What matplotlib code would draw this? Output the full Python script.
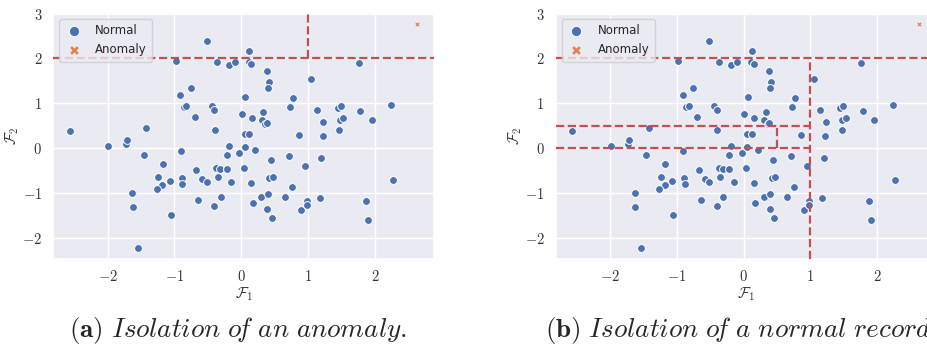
import numpy as np
import matplotlib
matplotlib.use('Agg')
import matplotlib.pyplot as plt
import seaborn as sns

sns.set_theme(style='darkgrid')
plt.rcParams['mathtext.fontset'] = 'cm'
plt.rcParams['font.family'] = ['DejaVu Sans']

# Normal records (feature 1, feature 2)
normal_f1 = [-2.56, -1.99, -1.73, -1.71, -1.42, -1.46, -1.17, -1.24, -1.18, -1.26, -1.07, -1.63, -1.62, -1.05, -1.54,
             -0.98, -0.91, -0.75, -0.86, -0.82, -0.69, -0.90, -0.89, -0.88, -0.67, -0.58, -0.51, -0.64, -0.40,
             -0.51, -0.36, -0.19, -0.10, -0.44, -0.40, -0.39, -0.18, -0.21, -0.03, -0.37, -0.31, -0.21, -0.35, -0.15, -0.30,
             0.12, 0.11, 0.15, 0.06, 0.01, 0.16, 0.05, 0.12, 0.05, 0.21, 0.04, 0.15, 0.17,
             0.38, 0.41, 0.40, 0.33, 0.31, 0.36, 0.38, 0.44, 0.42, 0.47, 0.30, 0.40, 0.39, 0.46,
             0.77, 0.73, 0.86, 0.71, 0.76, 0.65, 0.90, 0.98, 0.98, 0.95,
             1.05, 1.14, 1.23, 1.22, 1.20, 1.18, 1.45, 1.49, 1.48, 1.53, 1.47,
             1.76, 1.78, 1.95, 1.87, 1.90, 2.24, 2.27]
normal_f2 = [0.38, 0.04, 0.09, 0.17, 0.44, -0.15, -0.35, -0.65, -0.83, -0.92, -0.74, -1.00, -1.32, -1.49, -2.23,
             1.95, 1.19, 1.33, 0.92, 0.95, 0.69, -0.07, -0.67, -0.80, -0.49, -0.69, -0.75, -1.15, -1.29,
             2.39, 1.93, 1.86, 1.93, 0.95, 0.85, 0.40, 0.05, -0.15, -0.10, -0.44, -0.46, -0.46, -0.64, -0.75, -1.10,
             2.17, 1.92, 1.87, 1.13, 0.77, 0.68, 0.32, 0.32, 0.02, -0.04, -0.44, -0.77, -1.23,
             1.72, 1.48, 1.34, 0.80, 0.63, 0.53, 0.55, -0.27, -0.66, -0.65, -1.08, -1.03, -1.35, -1.55,
             1.12, 0.92, 0.30, -0.17, -0.86, -1.10, -1.38, -1.17, -1.27, -0.41,
             1.54, 0.86, 0.58, 0.27, -0.21, -1.11, 0.90, 0.94, 0.63, 0.67, 0.41,
             1.89, 0.83, 0.63, -1.17, -1.60, 0.97, -0.70]

anomaly_f1 = [2.63]
anomaly_f2 = [2.77]

# isolation tree splits: (axis, threshold, lower bound, upper bound)
splits_a = [('h', 2.0, None, None), ('v', 1.0, 2.0, None)]
splits_b = [('h', 2.0, None, None), ('v', 1.0, None, 2.0), ('h', 0.5, None, 1.0),
            ('h', 0.0, None, 1.0), ('v', 0.5, 0.0, 0.5)]

captions = [(r'$\mathbf{(a)}\ \mathit{Isolation\ o\!f\ an\ anomaly.}$', splits_a),
            (r'$\mathbf{(b)}\ \mathit{Isolation\ o\!f\ a\ normal\ record.}$', splits_b)]

xlim = (-2.81, 2.89)
ylim = (-2.48, 3.02)
blue, orange, red = '#4c72b0', '#dd8452', '#c44e52'

fig = plt.figure(figsize=(9.28, 3.5), dpi=100)
lefts = [0.0575, 0.5988]

for left, (caption, splits) in zip(lefts, captions):
    ax = fig.add_axes([left, 0.2591, 0.4106, 0.7046])
    ax.set_xlim(*xlim)
    ax.set_ylim(*ylim)
    ax.scatter(normal_f1, normal_f2, s=32, color=blue, edgecolor='white', linewidth=0.7,
               label='Normal', zorder=3)
    ax.scatter(anomaly_f1, anomaly_f2, s=16, color=orange, marker='X', edgecolor='white',
               linewidth=0.4, label='Anomaly', zorder=3)
    for kind, t, lo, hi in splits:
        if kind == 'h':
            ax.hlines(t, xlim[0] if lo is None else lo, xlim[1] if hi is None else hi,
                      colors=red, linestyles='--', linewidth=1.6, zorder=4)
        else:
            ax.vlines(t, ylim[0] if lo is None else lo, ylim[1] if hi is None else hi,
                      colors=red, linestyles='--', linewidth=1.6, zorder=4)

    ax.set_xticks([-2, -1, 0, 1, 2])
    ax.set_xticklabels([r'$-2$', r'$-1$', r'$0$', r'$1$', r'$2$'])
    ax.set_yticks([-2, -1, 0, 1, 2, 3])
    ax.set_yticklabels([r'$-2$', r'$-1$', r'$0$', r'$1$', r'$2$', r'$3$'])
    ax.tick_params(length=0, labelsize=10.5, colors='#333333')
    ax.tick_params(axis='x', pad=7)
    ax.tick_params(axis='y', pad=8)
    ax.set_xlabel(r'$\mathcal{F}_1$', fontsize=11, color='#333333', va='center')
    ax.set_ylabel(r'$\mathcal{F}_2$', fontsize=11, color='#333333', va='center')
    ax.xaxis.set_label_coords(0.5, -0.14)
    ax.yaxis.set_label_coords(-0.107, 0.5)

    leg = ax.legend(loc='upper left', fontsize=8.5, frameon=True, handletextpad=1.0,
                    borderpad=0.45, labelspacing=0.55, handlelength=1.6)
    leg.legend_handles[0].set_sizes([55])
    leg.legend_handles[1].set_sizes([50])
    leg.get_frame().set_facecolor('#eaeaf2')
    leg.get_frame().set_edgecolor('#cccccc')

    fig.text(left + 0.4106 / 2 - 0.006, 0.057, caption, ha='center', va='center', fontsize=19.5)

fig.savefig('out.png', dpi=100)
